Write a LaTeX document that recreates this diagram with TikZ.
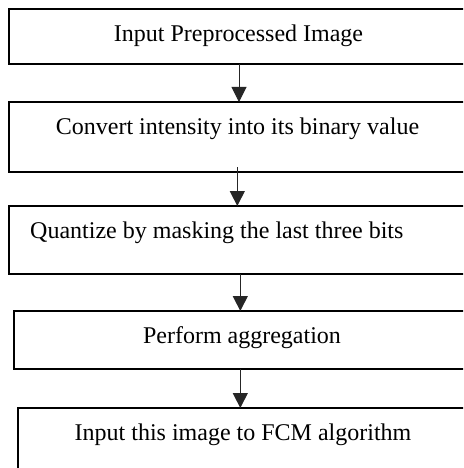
\documentclass[tikz,border=0pt]{standalone}
\usepackage{fontspec}
\setmainfont{Liberation Serif}
\usetikzlibrary{arrows.meta}
\begin{document}
\begin{tikzpicture}[x=1pt,y=-1pt,
  stepbox/.style={draw=black, line width=2pt, inner sep=0pt, outer sep=0pt,
    anchor=north west, minimum width=480pt},
  steptext/.style={inner sep=0pt, font=\fontsize{24}{28}\selectfont, text=black},
  flow/.style={draw=black!85, line width=1pt,
    -{Triangle[width=15pt,length=15pt]}}]
  % page frame: boxes run past the right and bottom edges
  \clip (0,0) rectangle (463,468);
  \fill[white] (0,0) rectangle (463,468);

  % process boxes
  \node[stepbox, minimum height=55pt] (b1) at (9,9) {};
  \node[stepbox, minimum height=70pt] (b2) at (9,102) {};
  \node[stepbox, minimum height=68pt] (b3) at (9,206) {};
  \node[stepbox, minimum height=58pt] (b4) at (14,311) {};
  \node[stepbox, minimum height=100pt] (b5) at (18,408) {};

  % box labels
  \node[steptext, anchor=base] (t1) at (238.5,42) {Input Preprocessed Image};
  \node[steptext, anchor=base] (t2) at (237.5,135) {Convert intensity into its binary value};
  \node[steptext, anchor=base west] (t3) at (30,238) {Quantize by masking the last three bits};
  \node[steptext, anchor=base] (t4) at (242,343) {Perform aggregation};
  \node[steptext, anchor=base] (t5) at (243,440) {Input this image to FCM algorithm};

  % arrow columns
  \coordinate (a1) at (239,0);
  \coordinate (a2) at (237.3,0);
  \coordinate (a3) at (240.3,0);
  \coordinate (a4) at (240.3,0);

  % connectors
  \draw[flow] (b1.south -| a1) -- (b2.north -| a1);
  \draw[flow] ([yshift=5pt]b2.south -| a2) -- (b3.north -| a2);
  \draw[flow] (b3.south -| a3) -- (b4.north -| a3);
  \draw[flow] (b4.south -| a4) -- (b5.north -| a4);
\end{tikzpicture}
\end{document}
